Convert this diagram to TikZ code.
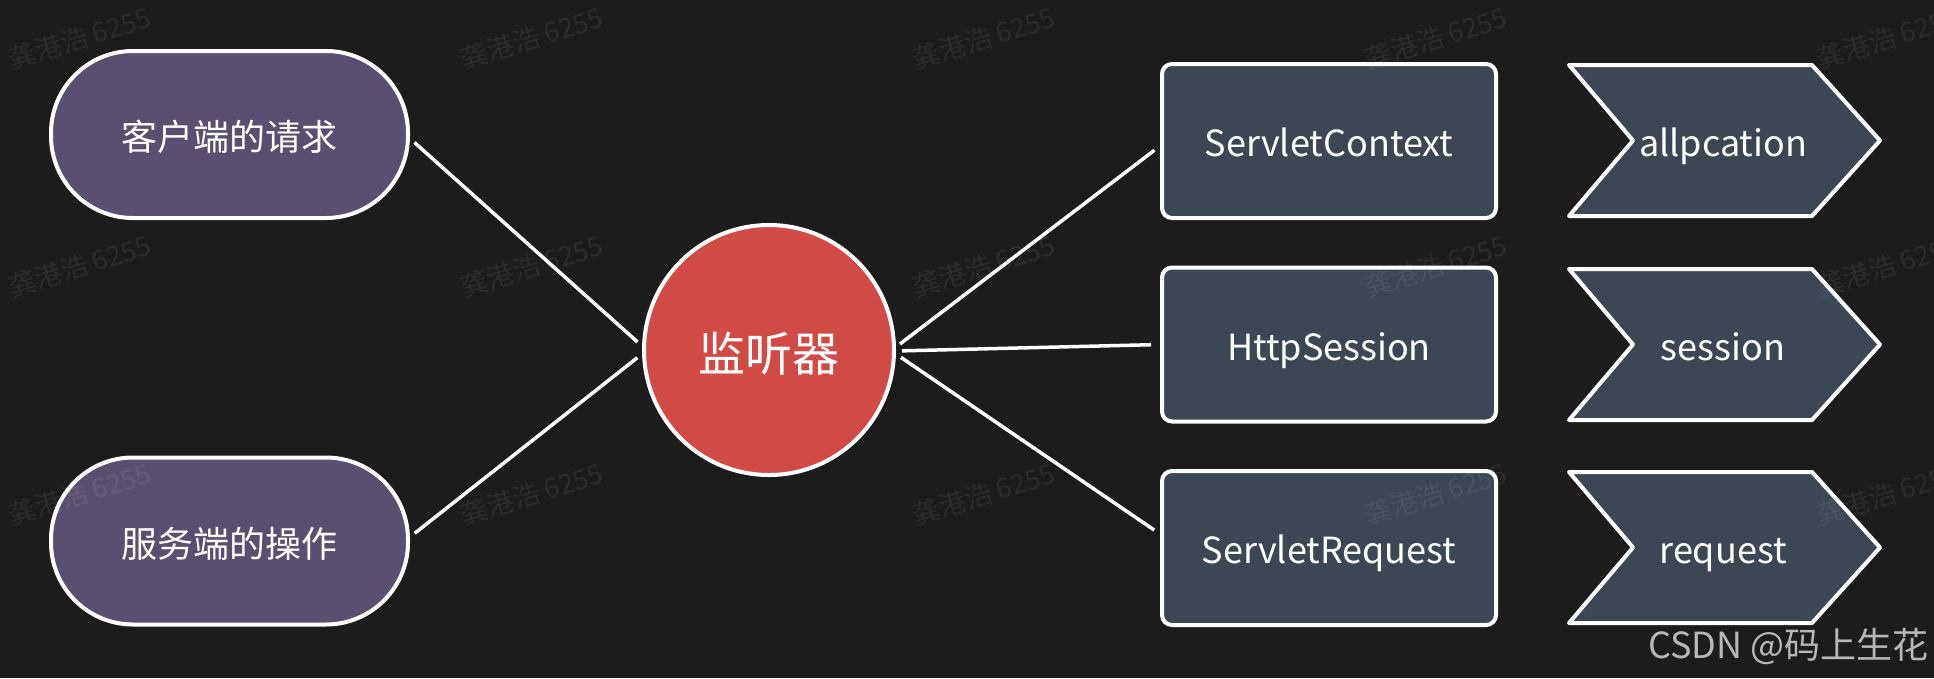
\documentclass[tikz,border=0pt]{standalone}
\usepackage{fontspec}
\setmainfont{Noto Sans CJK SC}
\usetikzlibrary{calc}
\definecolor{bg}{HTML}{1C1C1C}
\definecolor{pillc}{HTML}{5A4F70}
\definecolor{redc}{HTML}{D24A45}
\definecolor{boxc}{HTML}{3D4655}
\definecolor{csdn}{HTML}{B8B8B8}
\begin{document}
\begin{tikzpicture}[x=1pt,y=-1pt,
  pill/.style={draw=white, line width=4pt, fill=pillc, rounded corners=82pt,
    minimum width=357pt, minimum height=167pt, inner sep=0pt, text=white,
    font=\fontsize{36}{40}\selectfont, text height=32.4pt, text depth=0pt},
  hub/.style={circle, draw=white, line width=4pt, fill=redc, minimum size=250pt,
    inner sep=0pt, text=white, font=\fontsize{47}{50}\selectfont, text height=42.8pt, text depth=0pt},
  boxn/.style={draw=white, line width=4pt, fill=boxc, rounded corners=10pt,
    minimum width=334pt, minimum height=154pt, inner sep=0pt, text=white,
    font=\fontsize{36}{40}\selectfont, text height=31.4pt, text depth=0pt},
  chev/.style={draw=white, line width=4pt, fill=boxc, line join=round},
  chevtext/.style={text=white, font=\fontsize{36}{40}\selectfont, inner sep=0pt, text height=31.4pt, text depth=0pt},
  conn/.style={draw=white, line width=3.5pt},
  wm/.style={text=white, text opacity=0.07, rotate=17, font=\fontsize{27}{30}\selectfont, inner sep=0pt},
]
\fill[bg] (0,0) rectangle (1934,678);
\useasboundingbox (0,0) rectangle (1934,678);
\clip (0,0) rectangle (1934,678);

% left pills
\node[pill] (p1) at (229.5,134.5) {客户端的请求};
\node[pill] (p2) at (229.5,541) {服务端的操作};

% hub
\node[hub] (c) at (769,350) {监听器};

% middle boxes
\node[boxn] (s1) at (1329,141) {ServletContext};
\node[boxn] (s2) at (1329,344.5) {HttpSession};
\node[boxn] (s3) at (1329,548) {ServletRequest};

% chevrons
\draw[chev] (1569,65) -- (1812,65) -- (1880,140.5) -- (1812,216) -- (1569,216) -- (1633,140.5) -- cycle;
\node[chevtext] (a1) at (1723,140.5) {allpcation};
\draw[chev] (1569,269) -- (1812,269) -- (1880,344.5) -- (1812,420) -- (1569,420) -- (1633,344.5) -- cycle;
\node[chevtext] (a2) at (1723,344.5) {session};
\draw[chev] (1569,472) -- (1812,472) -- (1880,547.5) -- (1812,623) -- (1569,623) -- (1633,547.5) -- cycle;
\node[chevtext] (a3) at (1723,547.5) {request};

% connectors
\draw[conn, shorten <=6pt, shorten >=6pt] ([yshift=-4pt]p1.east) -- ([yshift=4pt]c.west);
\draw[conn, shorten <=6pt, shorten >=6pt] ([yshift=4pt]p2.east) -- ([yshift=-4pt]c.west);
\draw[conn, shorten <=5pt, shorten >=7pt] ([yshift=3pt]c.east) -- ([yshift=-5pt]s1.west);
\draw[conn, shorten <=6pt, shorten >=9pt] ([yshift=-1pt]c.east) -- (s2.west);
\draw[conn, shorten <=6pt, shorten >=7pt] ([yshift=-4pt]c.east) -- ([yshift=14pt]s3.west);

% watermarks
\foreach \x [count=\i] in {80,532,984,1436,1888}{
  \foreach \y [count=\j] in {38,266,494}{
    \node[wm] (wm-\i-\j) at (\x,\y) {龚港浩 6255};
  }
}

% credit
\node[text=csdn, anchor=east, inner sep=0pt, font=\fontsize{36}{40}\selectfont] (credit) at (1929,646) {CSDN @码上生花};
\end{tikzpicture}
\end{document}
